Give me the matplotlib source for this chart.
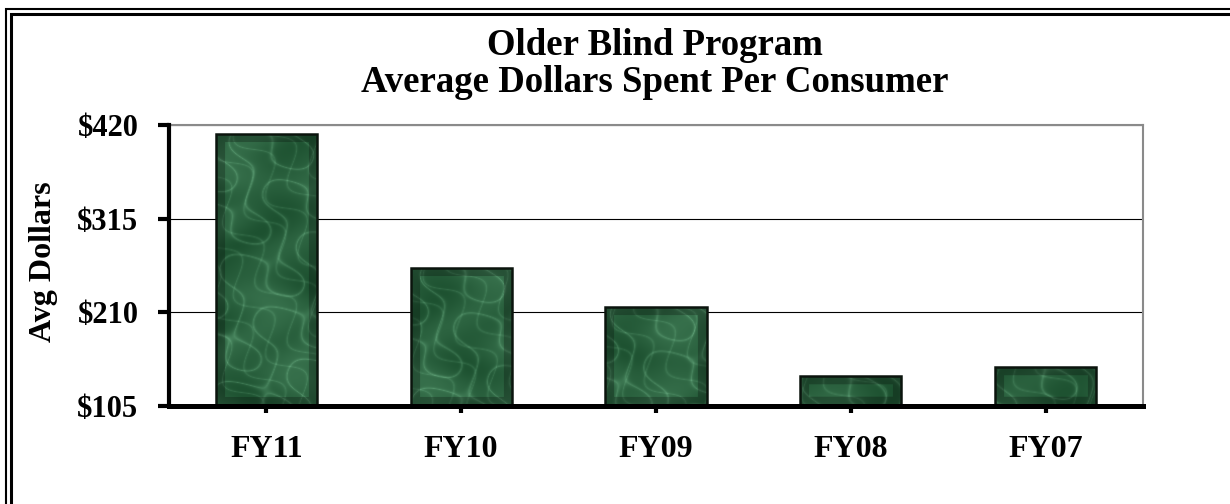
import matplotlib
matplotlib.use("Agg")
import matplotlib.pyplot as plt
from matplotlib.patches import Rectangle
import numpy as np

categories = ["FY11", "FY10", "FY09", "FY08", "FY07"]
avg_dollars = [410, 260, 216, 139, 149]
y_ticks = [105, 210, 315, 420]
y_tick_labels = ["$105", "$210", "$315", "$420"]
title_lines = ["Older Blind Program", "Average Dollars Spent Per Consumer"]
y_label = "Avg Dollars"

plt.rcParams['font.family'] = ['Liberation Serif', 'DejaVu Serif']
plt.rcParams['font.weight'] = 'bold'

W, H = 1230, 504
fig = plt.figure(figsize=(W / 100, H / 100), dpi=100)
fig.patch.set_facecolor('white')

ax = fig.add_axes([169 / W, 1 - 406 / H, (1143 - 169) / W, (406 - 125) / H])
x = np.arange(len(categories))
bar_w = 0.52
base = y_ticks[0]
vals = np.array(avg_dollars)

bars = ax.bar(x, vals - base, bottom=base, width=bar_w, color='#1d5732',
              edgecolor='none', linewidth=0, zorder=3)

ax.set_xlim(-0.5, len(categories) - 0.5)
ax.set_ylim(y_ticks[0], y_ticks[-1])

# decorative marble-like texture inside each bar (style only)
dark = np.array([0.05, 0.24, 0.12])
light = np.array([0.48, 0.76, 0.58])
px_per_x = (1143 - 169) / 5.0
px_per_y = (406 - 125) / 315.0
for i, rect in enumerate(bars):
    x0, y0 = rect.get_x(), rect.get_y()
    w, h = rect.get_width(), rect.get_height()
    nx = max(int(w * px_per_x), 2)
    ny = max(int(h * px_per_y), 2)
    u, v = np.meshgrid(np.arange(nx) + 37 * i, np.arange(ny) + 53 * i)
    n = np.sin(u * 0.05 + v * 0.03 + 2.0 * np.sin(u * 0.07 - v * 0.045)
               + 1.4 * np.sin(v * 0.1 + u * 0.03))
    n2 = np.sin(u * 0.11 - v * 0.06 + 1.7 * np.sin(v * 0.08 + u * 0.05))
    veins = 0.38 * np.exp(-np.abs(n) * 6) + 0.25 * np.exp(-np.abs(n2) * 8)
    mottle = 0.5 + 0.5 * np.sin(u * 0.045 + 1.3 * np.sin(v * 0.06)) * np.sin(v * 0.04 + u * 0.02)
    t = np.clip(0.2 + 0.3 * mottle + veins, 0, 1)
    rgb = dark[None, None, :] + t[..., None] * (light - dark)[None, None, :] * 0.75
    uu, vv = np.meshgrid(np.arange(nx), np.arange(ny))
    d = np.minimum.reduce([uu, nx - 1 - uu, vv, ny - 1 - vv])
    frame = np.where(d < 9, 0.75, 1.0)
    rgb = np.clip(rgb * frame[..., None], 0, 1)
    im = ax.imshow(rgb, extent=[x0, x0 + w, y0, y0 + h], origin='upper',
                   aspect='auto', interpolation='bilinear', zorder=3.5)
    im.set_clip_path(rect)

ax.bar(x, vals - base, bottom=base, width=bar_w, color='none',
       edgecolor='#0b140d', linewidth=1.8, zorder=4)

ax.set_xlim(-0.5, len(categories) - 0.5)
ax.set_ylim(y_ticks[0], y_ticks[-1])
ax.set_aspect('auto')
ax.set_yticks(y_ticks)
ax.set_yticklabels(y_tick_labels)
ax.set_xticks(x)
ax.set_xticklabels(categories)

ax.yaxis.grid(True, color='black', linewidth=0.8, zorder=1)
ax.set_axisbelow(True)

for s in ['top', 'right']:
    ax.spines[s].set_color('#8a8a8a')
    ax.spines[s].set_linewidth(1.5)
ax.spines['left'].set_color('black')
ax.spines['left'].set_linewidth(3.0)
ax.spines['bottom'].set_color('black')
ax.spines['bottom'].set_linewidth(3.6)
ax.spines['left'].set_zorder(6)
ax.spines['bottom'].set_zorder(6)

ax.tick_params(axis='y', direction='out', length=8, width=3, color='black',
               labelsize=22, pad=14)
ax.tick_params(axis='x', direction='out', length=5, width=3, color='black',
               labelsize=23, pad=16)
for lab in ax.get_xticklabels() + ax.get_yticklabels():
    lab.set_fontweight('bold')

ax.set_ylabel(y_label, fontsize=23, fontweight='bold')
ax.yaxis.set_label_coords(58 / W, 1 - 262 / H, transform=fig.transFigure)

fig.text(655 / W, 1 - 55 / H, title_lines[0], ha='center', va='baseline',
         fontsize=26.5, fontweight='bold')
fig.text(655 / W, 1 - 92 / H, title_lines[1], ha='center', va='baseline',
         fontsize=26.5, fontweight='bold')

fig.add_artist(Rectangle((6 / W, -0.2), 1.2, 0.2 + (1 - 9 / H),
                         transform=fig.transFigure, fill=False,
                         edgecolor='black', linewidth=1.5))
fig.add_artist(Rectangle((10.5 / W, -0.2), 1.2, 0.2 + (1 - 14.5 / H),
                         transform=fig.transFigure, fill=False,
                         edgecolor='black', linewidth=2.2))

fig.savefig("out.png", dpi=100, facecolor='white')
